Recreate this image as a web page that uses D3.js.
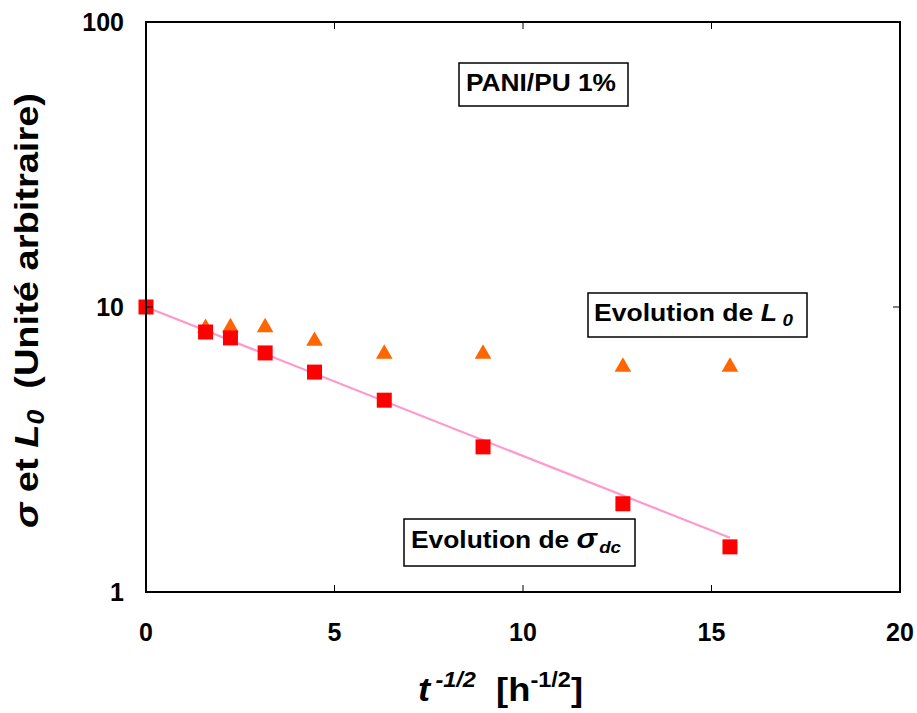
<!DOCTYPE html>
<html><head><meta charset="utf-8">
<script src="https://cdn.jsdelivr.net/npm/d3@7"></script>
<style>
body{margin:0;background:#fff;}
text{font-family:"Liberation Sans",Arial,Helvetica,sans-serif;font-weight:bold;white-space:pre;}
</style></head>
<body><svg id="c" width="917" height="713"></svg>
<script>
// Data
const xValues = [0, 1.58, 2.24, 3.16, 4.47, 6.32, 8.94, 12.65, 15.49];
const sigmaValues = [10, 8.17, 7.79, 6.9, 5.91, 4.71, 3.23, 2.04, 1.44];
const triX = [1.58, 2.24, 3.16, 4.47, 6.32, 8.94, 12.65, 15.49];
const L0Values = [8.5, 8.55, 8.55, 7.66, 6.9, 6.9, 6.21, 6.21];
const fitX = [0, 15.49];
const fitY = [10, 1.55];
const xTicks = [0, 5, 10, 15, 20];
const yTicks = [1, 10, 100];

const svg = d3.select("#c");
const L = 146, R = 900, T = 22, B = 592;
const x = d3.scaleLinear().domain([0, 20]).range([L, R]);
const y = d3.scaleLog().domain([1, 100]).range([B, T]);

// fit line
svg.append("path")
  .attr("d", d3.line().x((d,i)=>x(fitX[i])).y((d,i)=>y(fitY[i]))(fitX))
  .attr("stroke", "#FF99CC").attr("stroke-width", 2.2).attr("fill", "none");

// triangles
svg.selectAll(".tri").data(triX).enter().append("path")
  .attr("d", d3.symbol().type(d3.symbolTriangle).size(120))
  .attr("transform", (d,i)=>`translate(${x(d)},${y(L0Values[i])+1})`)
  .attr("fill", "#FF6600");

// squares
svg.selectAll(".sq").data(xValues).enter().append("rect")
  .attr("x", d=>x(d)-7.5).attr("y", (d,i)=>y(sigmaValues[i])-7.5)
  .attr("width", 15).attr("height", 15).attr("fill", "#FF0000");

// axes frame
svg.append("rect").attr("x", L).attr("y", T).attr("width", R-L).attr("height", B-T)
  .attr("fill", "none").attr("stroke", "#000").attr("stroke-width", 2);

// inner ticks
const tk = 7;
xTicks.slice(1, -1).forEach(v => {
  svg.append("line").attr("x1", x(v)).attr("x2", x(v)).attr("y1", B).attr("y2", B-tk).attr("stroke", "#000").attr("stroke-width", 1);
  svg.append("line").attr("x1", x(v)).attr("x2", x(v)).attr("y1", T).attr("y2", T+tk).attr("stroke", "#000").attr("stroke-width", 1);
});
yTicks.slice(1, -1).forEach(v => {
  svg.append("line").attr("x1", L).attr("x2", L+tk).attr("y1", y(v)).attr("y2", y(v)).attr("stroke", "#000").attr("stroke-width", 1);
  svg.append("line").attr("x1", R).attr("x2", R-tk).attr("y1", y(v)).attr("y2", y(v)).attr("stroke", "#000").attr("stroke-width", 1);
});

// tick labels
svg.selectAll(".xl").data(xTicks).enter().append("text")
  .attr("x", d=>x(d)).attr("y", 641).attr("text-anchor", "middle")
  .attr("font-size", 25).text(d=>d);
svg.selectAll(".yl").data(yTicks).enter().append("text")
  .attr("x", 124).attr("y", d=>y(d)+9).attr("text-anchor", "end")
  .attr("font-size", 25).text(d=>d);

// x title
const xt = svg.append("text").attr("x", 418).attr("y", 701).attr("font-size", 34)
  .attr("textLength", 165).attr("lengthAdjust", "spacingAndGlyphs");
xt.append("tspan").attr("font-style", "italic").text("t");
xt.append("tspan").attr("font-size", 22).attr("dy", -14).attr("font-style", "italic").attr("dx", 5).text("-1/2");
xt.append("tspan").attr("dy", 14).text("  [h");
xt.append("tspan").attr("font-size", 22).attr("dy", -14).text("-1/2");
xt.append("tspan").attr("dy", 14).text("]");

// y title
const yt = svg.append("text").attr("transform", "translate(38,528) rotate(-90)")
  .attr("font-size", 33).attr("textLength", 435).attr("lengthAdjust", "spacingAndGlyphs");
yt.append("tspan").attr("font-style", "italic").text("σ");
yt.append("tspan").text(" et ");
yt.append("tspan").attr("font-style", "italic").text("L");
yt.append("tspan").attr("font-style", "italic").attr("font-size", 23).attr("dy", 6).text("0");
yt.append("tspan").attr("dy", -6).text("  (Unité arbitraire)");

// annotation boxes
function box(x0, y0, w, h) {
  svg.append("rect").attr("x", x0).attr("y", y0).attr("width", w).attr("height", h)
    .attr("fill", "#fff").attr("stroke", "#000").attr("stroke-width", 1.5);
}
box(459, 63, 169, 43);
svg.append("text").attr("x", 466).attr("y", 91).attr("font-size", 24)
  .attr("textLength", 150).attr("lengthAdjust", "spacingAndGlyphs").text("PANI/PU 1%");

box(588, 293, 219, 44);
const t2 = svg.append("text").attr("x", 594).attr("y", 321).attr("font-size", 24)
  .attr("textLength", 199).attr("lengthAdjust", "spacingAndGlyphs");
t2.append("tspan").text("Evolution de ");
t2.append("tspan").attr("font-style", "italic").text("L");
t2.append("tspan").attr("font-style", "italic").attr("font-size", 17).attr("dx", 5).attr("dy", 5).text("0");

box(404, 519, 231, 47);
const t3 = svg.append("text").attr("x", 411).attr("y", 548).attr("font-size", 24)
  .attr("textLength", 210).attr("lengthAdjust", "spacingAndGlyphs");
t3.append("tspan").text("Evolution de ");
t3.append("tspan").attr("font-style", "italic").attr("font-size", 28).text("σ");
t3.append("tspan").attr("font-style", "italic").attr("font-size", 17).attr("dx", 2).attr("dy", 5).text("dc");
</script></body></html>
